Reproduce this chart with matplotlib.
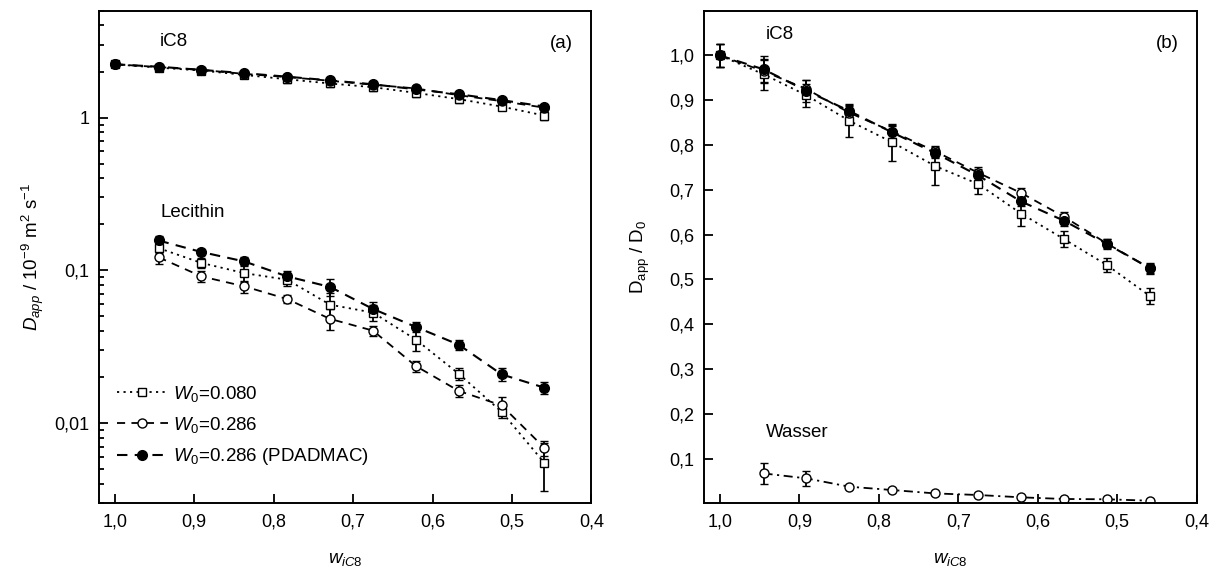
import numpy as np
import matplotlib
matplotlib.use("Agg")
import matplotlib.pyplot as plt
from matplotlib.ticker import FixedLocator, FuncFormatter, LogLocator, NullFormatter
from matplotlib.lines import Line2D

plt.rcParams["font.family"] = ["Liberation Sans", "DejaVu Sans"]
plt.rcParams["mathtext.fontset"] = "custom"
plt.rcParams["mathtext.rm"] = "Liberation Sans"
plt.rcParams["mathtext.it"] = "Liberation Sans:italic"
plt.rcParams["mathtext.bf"] = "Liberation Sans:bold"

# ---------- data ----------
w_ic8 = [1.0, 0.945, 0.891, 0.837, 0.783, 0.729, 0.675, 0.621, 0.567, 0.513, 0.459]
w_lec = [0.945, 0.891, 0.837, 0.783, 0.729, 0.675, 0.621, 0.567, 0.513, 0.459]

# (a) apparent diffusion coefficients / 1e-9 m^2 s^-1
ic8_080 = [2.23, 2.12, 2.03, 1.90, 1.78, 1.67, 1.58, 1.45, 1.32, 1.18, 1.03]
ic8_286 = [2.23, 2.14, 2.05, 1.93, 1.84, 1.74, 1.64, 1.55, 1.40, 1.28, 1.16]
ic8_pd = [2.23, 2.15, 2.05, 1.95, 1.85, 1.75, 1.65, 1.53, 1.42, 1.30, 1.18]
ic8_080_err = [0.08, 0.10, 0.09, 0.09, 0.09, 0.09, 0.08, 0.08, 0.07, 0.06, 0.06]
ic8_286_err = [0.05, 0.05, 0.05, 0.05, 0.05, 0.05, 0.04, 0.04, 0.04, 0.03, 0.03]
ic8_pd_err = [0.05, 0.05, 0.05, 0.05, 0.05, 0.05, 0.04, 0.04, 0.04, 0.03, 0.03]

lec_080 = [0.140, 0.112, 0.096, 0.087, 0.0597, 0.053, 0.0353, 0.0211, 0.0119, 0.0055]
lec_286 = [0.122, 0.0914, 0.0787, 0.065, 0.0482, 0.0404, 0.0237, 0.0163, 0.0131, 0.0069]
lec_pd = [0.157, 0.132, 0.1145, 0.0914, 0.078, 0.056, 0.0427, 0.0327, 0.0209, 0.0171]
lec_080_err = [0.010, 0.008, 0.012, 0.008, 0.012, 0.006, 0.0055, 0.002, 0.001, 0.0019]
lec_286_err = [0.012, 0.008, 0.007, 0.004, 0.0075, 0.003, 0.002, 0.0015, 0.0017, 0.0008]
lec_pd_err = [0.012, 0.006, 0.008, 0.008, 0.010, 0.006, 0.003, 0.0025, 0.002, 0.0015]

# (b) normalised D_app / D_0
rel_080 = [1.0, 0.958, 0.911, 0.854, 0.806, 0.753, 0.713, 0.647, 0.590, 0.532, 0.463]
rel_286 = [1.0, 0.965, 0.925, 0.872, 0.830, 0.786, 0.738, 0.693, 0.640, 0.580, 0.525]
rel_pd = [1.0, 0.969, 0.921, 0.876, 0.828, 0.782, 0.732, 0.674, 0.631, 0.579, 0.525]
rel_080_err = [0.025, 0.035, 0.025, 0.035, 0.042, 0.042, 0.022, 0.028, 0.018, 0.015, 0.017]
rel_286_err = [0.025, 0.025, 0.020, 0.015, 0.015, 0.012, 0.012, 0.010, 0.010, 0.010, 0.010]
rel_pd_err = [0.025, 0.030, 0.025, 0.015, 0.015, 0.012, 0.015, 0.010, 0.012, 0.012, 0.012]

wasser = [0.0667, 0.0556, 0.037, 0.0296, 0.022, 0.0185, 0.0133, 0.0096, 0.0089, 0.0058]
wasser_err = [0.024, 0.017, 0.002, 0.002, 0.002, 0.002, 0.002, 0.002, 0.002, 0.002]

labels = [r"$W_{\mathrm{0}}$=0.080", r"$W_{\mathrm{0}}$=0.286", r"$W_{\mathrm{0}}$=0.286 (PDADMAC)"]

# ---------- styles ----------
LS_080 = (0, (1.2, 2.4))
LS_286 = (0, (4.5, 3.5))
LS_PD = (0, (5, 3.5))
sty_080 = dict(marker="s", ms=6, mfc="white", mec="black", mew=1.0, color="black", lw=1.3, ls=LS_080)
sty_286 = dict(marker="o", ms=6.5, mfc="white", mec="black", mew=1.0, color="black", lw=1.3, ls=LS_286)
sty_pd = dict(marker="o", ms=7, mfc="black", mec="black", mew=1.0, color="black", lw=1.5, ls=LS_PD)
err_kw = dict(ecolor="black", elinewidth=1.3, capsize=3.2, capthick=1.3)

def comma(v, pos):
    return f"{v:.1f}".replace(".", ",")

def style_axes(ax):
    for s in ax.spines.values():
        s.set_linewidth(1.4)
    ax.tick_params(which="both", direction="in", labelsize=13, width=1.3, top=False, right=False)
    ax.tick_params(which="major", length=6.5, pad=7)
    ax.tick_params(which="minor", length=3.5)

fig = plt.figure(figsize=(12.19, 5.74), dpi=100)
ax1 = fig.add_axes([0.0812, 0.1232, 0.4039, 0.8582])
ax2 = fig.add_axes([0.5775, 0.1232, 0.4042, 0.8582])

# ---------- (a) ----------
ax1.errorbar(w_ic8, ic8_080, yerr=ic8_080_err, **sty_080, **err_kw)
ax1.errorbar(w_ic8, ic8_286, yerr=ic8_286_err, **sty_286, **err_kw)
ax1.errorbar(w_ic8, ic8_pd, yerr=ic8_pd_err, **sty_pd, **err_kw)
ax1.errorbar(w_lec, lec_080, yerr=lec_080_err, **sty_080, **err_kw)
ax1.errorbar(w_lec, lec_286, yerr=lec_286_err, **sty_286, **err_kw)
ax1.errorbar(w_lec, lec_pd, yerr=lec_pd_err, **sty_pd, **err_kw)

ax1.set_yscale("log")
ax1.set_ylim(0.003, 5)
ax1.set_xlim(1.02, 0.4)
ax1.yaxis.set_major_locator(FixedLocator([0.01, 0.1, 1]))
ax1.yaxis.set_major_formatter(FuncFormatter(lambda v, p: {0.01: "0,01", 0.1: "0,1", 1: "1"}.get(round(v, 3), "")))
ax1.yaxis.set_minor_locator(LogLocator(base=10, subs=np.arange(2, 10)))
ax1.yaxis.set_minor_formatter(NullFormatter())
ax1.xaxis.set_major_locator(FixedLocator([1.0, 0.9, 0.8, 0.7, 0.6, 0.5, 0.4]))
ax1.xaxis.set_major_formatter(FuncFormatter(comma))
style_axes(ax1)

ax1.set_xlabel(r"$w_{iC8}$", fontsize=13.5, labelpad=15)
ax1.set_ylabel(r"$D_{app}$ / 10$^{-9}$ m$^{2}$ s$^{-1}$", fontsize=13.5, labelpad=6)

ax1.text(0.124, 0.937, "iC8", transform=ax1.transAxes, fontsize=13.5, va="center")
ax1.text(0.962, 0.934, "(a)", transform=ax1.transAxes, fontsize=13.5, va="center", ha="right")
ax1.text(0.124, 0.59, "Lecithin", transform=ax1.transAxes, fontsize=13.5, va="center")

handles = [Line2D([], [], **sty_080), Line2D([], [], **sty_286), Line2D([], [], **sty_pd)]
ax1.legend(handles, labels, loc="upper left", bbox_to_anchor=(0.025, 0.254), frameon=False,
           fontsize=13.5, handlelength=2.7, handletextpad=0.27, labelspacing=0.6,
           borderaxespad=0.0, borderpad=0.3)

# ---------- (b) ----------
ax2.errorbar(w_ic8, rel_080, yerr=rel_080_err, **sty_080, **err_kw)
ax2.errorbar(w_ic8, rel_286, yerr=rel_286_err, **sty_286, **err_kw)
ax2.errorbar(w_ic8, rel_pd, yerr=rel_pd_err, **sty_pd, **err_kw)
wasser_sty = dict(sty_286)
wasser_sty["ls"] = (0, (5, 2.5, 1.2, 2.5))
ax2.errorbar(w_lec, wasser, yerr=wasser_err, **wasser_sty, **err_kw)

ax2.set_xlim(1.02, 0.4)
ax2.set_ylim(0.0, 1.1)
ax2.yaxis.set_major_locator(FixedLocator([0.1, 0.2, 0.3, 0.4, 0.5, 0.6, 0.7, 0.8, 0.9, 1.0]))
ax2.yaxis.set_major_formatter(FuncFormatter(comma))
ax2.xaxis.set_major_locator(FixedLocator([1.0, 0.9, 0.8, 0.7, 0.6, 0.5, 0.4]))
ax2.xaxis.set_major_formatter(FuncFormatter(comma))
style_axes(ax2)

ax2.set_xlabel(r"$w_{iC8}$", fontsize=13.5, labelpad=15)
ax2.set_ylabel(r"D$_{\mathrm{app}}$ / D$_{\mathrm{0}}$", fontsize=13.5, labelpad=12)

ax2.text(0.125, 0.951, "iC8", transform=ax2.transAxes, fontsize=13.5, va="center")
ax2.text(0.964, 0.934, "(b)", transform=ax2.transAxes, fontsize=13.5, va="center", ha="right")
ax2.text(0.125, 0.143, "Wasser", transform=ax2.transAxes, fontsize=13.5, va="center")

fig.savefig("out.png", dpi=100)
